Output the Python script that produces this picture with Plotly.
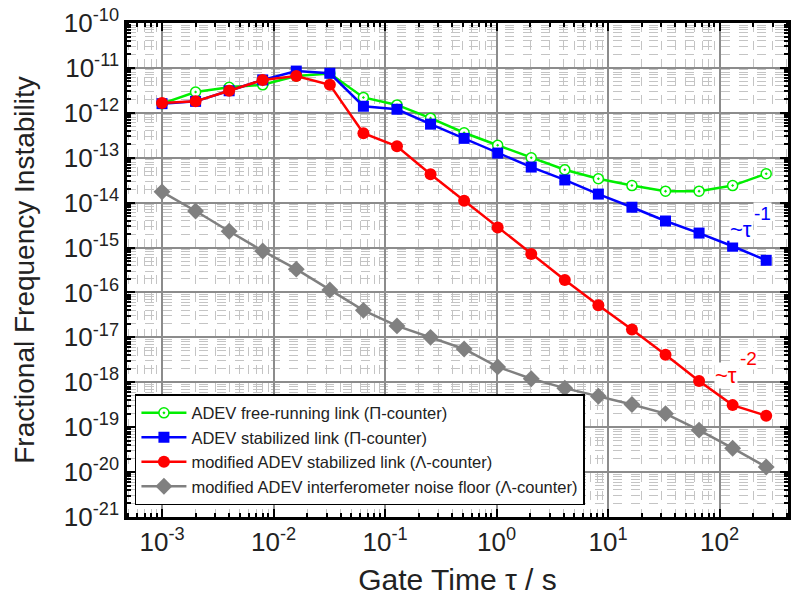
import plotly.graph_objects as go

# Gate times (s): 1 ms * 2^n
tau = [0.001, 0.002, 0.004, 0.008, 0.016, 0.032, 0.064, 0.128, 0.256, 0.512,
       1.024, 2.048, 4.096, 8.192, 16.384, 32.768, 65.536, 131.072, 262.144]

adev_free = [1.6e-12, 2.9e-12, 3.7e-12, 4.2e-12, 6.6e-12, 7.5e-12, 2.2e-12, 1.5e-12,
             7.6e-13, 3.6e-13, 1.9e-13, 1.0e-13, 5.4e-14, 3.4e-14, 2.4e-14, 1.8e-14,
             1.8e-14, 2.4e-14, 4.4e-14]

adev_stab = [1.6e-12, 1.8e-12, 3.1e-12, 5.4e-12, 8.5e-12, 7.6e-12, 1.4e-12, 1.2e-12,
             5.6e-13, 2.7e-13, 1.27e-13, 6.2e-14, 3.2e-14, 1.55e-14, 7.9e-15, 3.9e-15,
             2.1e-15, 1.07e-15, 5.2e-16]

mod_stab = [1.65e-12, 1.8e-12, 3.1e-12, 5.4e-12, 6.6e-12, 4.2e-12, 3.5e-13, 1.8e-13,
            4.3e-14, 1.1e-14, 2.8e-15, 7.2e-16, 1.9e-16, 5.2e-17, 1.5e-17, 4.1e-18,
            1.07e-18, 3.1e-19, 1.8e-19]

mod_floor = [1.74e-14, 6.5e-15, 2.3e-15, 8.4e-16, 3.3e-16, 1.13e-16, 4.0e-17, 1.8e-17,
             1.0e-17, 5.5e-18, 2.2e-18, 1.2e-18, 7.4e-19, 4.9e-19, 3.2e-19, 2.0e-19,
             8.6e-20, 3.4e-20, 1.3e-20]

names = ["ADEV free-running link (\u03a0-counter)",
         "ADEV stabilized link (\u03a0-counter)",
         "modified ADEV stabilized link (\u039b-counter)",
         "modified ADEV interferometer noise floor (\u039b-counter)"]

x_exps = [-3, -2, -1, 0, 1, 2]
y_exps = list(range(-21, -9))

# slope labels: (base text, exponent text, colour)
slope_labels = [("~\u03c4", "-1", "#0000ff"), ("~\u03c4", "-2", "#ff0000")]

FONT = "Liberation Sans, Arial, sans-serif"

fig = go.Figure()

fig.add_trace(go.Scatter(
    x=tau, y=mod_floor, mode="lines+markers", name=names[3], legendrank=4,
    line=dict(color="#808080", width=2.5),
    marker=dict(symbol="diamond", size=13, color="#808080")))
fig.add_trace(go.Scatter(
    x=tau, y=adev_free, mode="lines+markers", name=names[0], legendrank=1,
    line=dict(color="#00ee00", width=2.5),
    marker=dict(symbol="circle-dot", size=10, color="white",
                line=dict(color="#00ee00", width=1.5))))
fig.add_trace(go.Scatter(
    x=tau, y=adev_stab, mode="lines+markers", name=names[1], legendrank=2,
    line=dict(color="#0000ff", width=2.5),
    marker=dict(symbol="square", size=11, color="#0000ff")))
fig.add_trace(go.Scatter(
    x=tau, y=mod_stab, mode="lines+markers", name=names[2], legendrank=3,
    line=dict(color="#ff0000", width=2.5),
    marker=dict(symbol="circle", size=12, color="#ff0000")))

axis_common = dict(
    type="log", showline=True, linecolor="black", linewidth=2.5, mirror="ticks",
    ticks="inside", ticklen=8, tickwidth=2, tickcolor="black",
    showgrid=True, gridcolor="#8c8c8c", gridwidth=1.5,
    tickfont=dict(family=FONT, size=26, color="#222222"),
    zeroline=False, automargin=False, ticklabeloverflow="allow",
    minor=dict(ticks="inside", ticklen=4, tickwidth=1.5, tickcolor="black",
               showgrid=True, gridcolor="#c4c4c4", gridwidth=1, griddash="dash",
               dtick="D1"),
)

fig.update_xaxes(
    **axis_common,
    range=[-3.314, 2.614],
    tickvals=[10.0 ** e for e in x_exps],
    ticktext=["10<sup>%d</sup>" % e for e in x_exps],
    title=dict(text="Gate Time \u03c4 / s", font=dict(family=FONT, size=30, color="#222222"),
               standoff=14),
)
fig.update_yaxes(
    **axis_common,
    range=[-21, -10],
    tickvals=[10.0 ** e for e in y_exps],
    ticktext=["10<sup>%d</sup>" % e for e in y_exps],
    title=dict(text="Fractional Frequency Instability",
               font=dict(family=FONT, size=28, color="#222222"), standoff=22),
)

# slope annotations (positions in log10 axis units)
base_pos = [(2.193, -14.60), (2.058, -17.84)]
exp_pos = [(2.381, -14.25), (2.256, -17.48)]
for (base, expo, col), (bx, by), (ex, ey) in zip(slope_labels, base_pos, exp_pos):
    fig.add_annotation(x=bx, y=by, xref="x", yref="y", text=base, showarrow=False,
                       font=dict(family=FONT, size=22, color=col),
                       bgcolor="white", borderpad=0)
    fig.add_annotation(x=ex, y=ey, xref="x", yref="y", text=expo, showarrow=False,
                       font=dict(family=FONT, size=19, color=col),
                       bgcolor="white", borderpad=0)

fig.update_layout(
    width=791, height=597,
    margin=dict(l=127, r=3, t=23, b=80),
    paper_bgcolor="white", plot_bgcolor="white",
    showlegend=True,
    legend=dict(x=0.012, y=0.024, xanchor="left", yanchor="bottom",
                bgcolor="white", bordercolor="black", borderwidth=1.5,
                font=dict(family=FONT, size=16.5, color="#222222"),
                itemwidth=45, tracegroupgap=0),
)

fig.write_html("out.html", config={"displayModeBar": False},
               post_script="document.body.style.margin='0';")
